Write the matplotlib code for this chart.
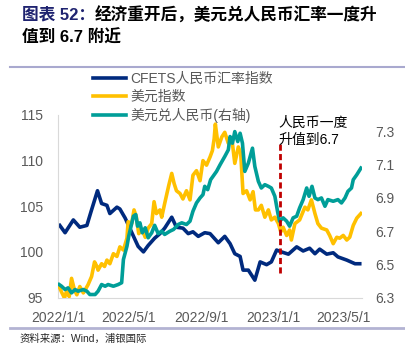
import pandas as pd
import matplotlib
matplotlib.use("Agg")
import matplotlib.pyplot as plt
from matplotlib.lines import Line2D

plt.rcParams['font.family'] = ['Liberation Sans', 'Noto Sans CJK SC', 'DejaVu Sans']

# CFETS人民币汇率指数 (左轴)
cfets_dates = ['2022-01-04', '2022-01-13', '2022-01-27', '2022-02-07', '2022-02-19', '2022-02-26',
               '2022-03-09', '2022-03-16', '2022-03-25', '2022-03-30', '2022-04-11', '2022-04-16',
               '2022-04-25', '2022-05-12', '2022-05-17', '2022-05-26', '2022-06-03', '2022-06-14',
               '2022-06-23', '2022-07-01', '2022-07-13', '2022-07-21', '2022-08-01', '2022-08-10',
               '2022-08-18', '2022-08-27', '2022-09-07', '2022-09-16', '2022-09-30', '2022-10-11',
               '2022-10-20', '2022-10-28', '2022-11-06', '2022-11-11', '2022-11-20', '2022-12-01',
               '2022-12-10', '2022-12-21', '2022-12-29', '2023-01-07', '2023-01-15', '2023-01-27',
               '2023-02-10', '2023-02-21', '2023-03-04', '2023-03-13', '2023-03-21', '2023-04-02',
               '2023-04-13', '2023-04-21', '2023-05-06', '2023-05-20', '2023-05-28']
cfets_vals = [102.9, 102.1, 103.5, 102.7, 102.9, 104.4,
              106.7, 105.3, 105.1, 104.2, 104.9, 104.7,
              103.7, 101.3, 100.6, 100.0, 100.7, 101.5,
              102.0, 102.6, 103.8, 102.7, 102.6, 102.0,
              102.2, 101.7, 102.1, 102.0, 101.0, 101.7,
              100.9, 99.8, 99.5, 98.0, 98.0, 96.9,
              98.9, 98.6, 98.9, 100.2, 100.0, 99.75,
              100.55, 100.1, 100.4, 99.8, 100.3, 99.75,
              99.9, 99.45, 99.1, 98.7, 98.7]

# 美元指数 (左轴)
dxy_dates = ['2022-01-03', '2022-01-07', '2022-01-12', '2022-01-16', '2022-01-20', '2022-01-24',
             '2022-01-29', '2022-02-02', '2022-02-07', '2022-02-13', '2022-02-21', '2022-02-27',
             '2022-03-04', '2022-03-08', '2022-03-10', '2022-03-16', '2022-03-21', '2022-03-25',
             '2022-03-30', '2022-04-05', '2022-04-11', '2022-04-16', '2022-04-22', '2022-04-28',
             '2022-04-30', '2022-05-06', '2022-05-10', '2022-05-14', '2022-05-18', '2022-05-24',
             '2022-05-29', '2022-06-03', '2022-06-09', '2022-06-13', '2022-06-17', '2022-06-23',
             '2022-06-26', '2022-07-01', '2022-07-08', '2022-07-13', '2022-07-17', '2022-07-21',
             '2022-07-27', '2022-08-01', '2022-08-07', '2022-08-13', '2022-08-18', '2022-08-24',
             '2022-08-30', '2022-09-04', '2022-09-10', '2022-09-16', '2022-09-20', '2022-09-23',
             '2022-09-25', '2022-09-30', '2022-10-06', '2022-10-11', '2022-10-17', '2022-10-23',
             '2022-10-28', '2022-11-03', '2022-11-07', '2022-11-11', '2022-11-17', '2022-11-23',
             '2022-11-28', '2022-12-02', '2022-12-07', '2022-12-12', '2022-12-18', '2022-12-24',
             '2022-12-29', '2023-01-04', '2023-01-10', '2023-01-14', '2023-01-18', '2023-01-24',
             '2023-01-29', '2023-02-01', '2023-02-07', '2023-02-15', '2023-02-24', '2023-03-01',
             '2023-03-07', '2023-03-13', '2023-03-18', '2023-03-24', '2023-04-02', '2023-04-07',
             '2023-04-13', '2023-04-19', '2023-04-24', '2023-04-30', '2023-05-06', '2023-05-11',
             '2023-05-17', '2023-05-23', '2023-05-30']
dxy_vals = [96.2, 95.6, 94.95, 95.8, 95.1, 97.1,
            95.8, 95.3, 96.2, 95.5, 96.4, 97.3,
            98.9, 98.4, 98.0, 98.7, 98.4, 99.1,
            98.7, 99.8, 99.5, 100.55, 100.2, 101.5,
            103.3, 103.1, 104.6, 103.8, 102.0, 102.4,
            101.6, 102.6, 103.1, 105.5, 104.2, 104.6,
            103.8, 105.3, 107.3, 108.6, 107.5, 106.7,
            106.4, 105.8, 106.7, 105.7, 108.4, 108.9,
            107.8, 110.0, 109.5, 110.4, 111.1, 112.4,
            114.0, 111.5, 112.6, 113.1, 111.9, 112.4,
            109.7, 111.5, 110.8, 106.4, 106.7, 105.7,
            106.6, 104.6, 104.6, 105.1, 103.8, 104.6,
            103.5, 103.8, 103.1, 102.2, 102.7, 101.8,
            102.4, 101.3, 103.1, 103.5, 104.9, 104.6,
            105.7, 104.2, 103.1, 102.6, 102.4, 101.8,
            100.9, 101.6, 101.5, 101.8, 101.3, 101.6,
            102.9, 103.7, 104.2]

# 美元兑人民币 (右轴)
usdcny_dates = ['2022-01-03', '2022-01-07', '2022-01-13', '2022-01-18', '2022-01-24', '2022-01-30',
                '2022-02-04', '2022-02-13', '2022-02-19', '2022-02-24', '2022-03-05', '2022-03-10',
                '2022-03-16', '2022-03-22', '2022-03-27', '2022-04-05', '2022-04-13', '2022-04-19',
                '2022-04-22', '2022-04-28', '2022-05-01', '2022-05-05', '2022-05-09', '2022-05-13',
                '2022-05-16', '2022-05-20', '2022-05-24', '2022-05-29', '2022-06-03', '2022-06-09',
                '2022-06-14', '2022-06-20', '2022-06-26', '2022-07-01', '2022-07-10', '2022-07-16',
                '2022-07-24', '2022-07-30', '2022-08-07', '2022-08-13', '2022-08-18', '2022-08-24',
                '2022-08-30', '2022-09-04', '2022-09-07', '2022-09-12', '2022-09-17', '2022-09-21',
                '2022-09-27', '2022-10-03', '2022-10-11', '2022-10-17', '2022-10-20', '2022-10-24',
                '2022-10-28', '2022-11-02', '2022-11-06', '2022-11-10', '2022-11-14', '2022-11-20',
                '2022-11-27', '2022-12-01', '2022-12-07', '2022-12-12', '2022-12-18', '2022-12-24',
                '2022-12-29', '2023-01-04', '2023-01-09', '2023-01-12', '2023-01-18', '2023-01-24',
                '2023-01-29', '2023-02-04', '2023-02-10', '2023-02-15', '2023-02-21', '2023-02-27',
                '2023-03-03', '2023-03-08', '2023-03-13', '2023-03-18', '2023-03-24', '2023-03-30',
                '2023-04-04', '2023-04-13', '2023-04-21', '2023-04-27', '2023-05-03', '2023-05-08',
                '2023-05-14', '2023-05-17', '2023-05-23', '2023-05-30']
usdcny_vals = [6.378, 6.368, 6.348, 6.358, 6.328, 6.348,
               6.338, 6.348, 6.338, 6.318, 6.318, 6.338,
               6.378, 6.368, 6.378, 6.368, 6.378, 6.389,
               6.529, 6.609, 6.669, 6.730, 6.790, 6.800,
               6.730, 6.750, 6.690, 6.720, 6.660, 6.690,
               6.735, 6.685, 6.700, 6.680, 6.700, 6.710,
               6.740, 6.750, 6.740, 6.760, 6.820, 6.870,
               6.900, 6.920, 6.970, 6.950, 7.010, 7.030,
               7.060, 7.100, 7.150, 7.190, 7.270, 7.230,
               7.300, 7.240, 7.290, 7.230, 7.060, 7.110,
               7.200, 7.090, 7.000, 6.960, 6.980, 6.970,
               6.960, 6.910, 6.810, 6.760, 6.780, 6.760,
               6.730, 6.780, 6.790, 6.840, 6.890, 6.960,
               6.910, 6.970, 6.900, 6.890, 6.900, 6.850,
               6.890, 6.880, 6.890, 6.870, 6.900, 6.940,
               6.960, 7.010, 7.040, 7.080]

xtick_dates = ['2022-01-01', '2022-05-01', '2022-09-01', '2023-01-01', '2023-05-01']
xtick_labels = ['2022/1/1', '2022/5/1', '2022/9/1', '2023/1/1', '2023/5/1']
left_ticks = [95, 100, 105, 110, 115]
right_ticks = [6.3, 6.5, 6.7, 6.9, 7.1, 7.3]
mark_date = '2023-01-13'

NAVY = '#002A7E'
GOLD = '#FFC000'
TEAL = '#009E98'
GREY = '#595959'

fig = plt.figure(figsize=(4.05, 3.52), dpi=100)
ax = fig.add_axes([58 / 405, 1 - 297.5 / 352, 303.5 / 405, 182.5 / 352])
ax2 = ax.twinx()

l1, = ax.plot(pd.to_datetime(cfets_dates), cfets_vals, color=NAVY, lw=2.6, zorder=2)
l2, = ax.plot(pd.to_datetime(dxy_dates), dxy_vals, color=GOLD, lw=2.6, zorder=3)
l3, = ax2.plot(pd.to_datetime(usdcny_dates), usdcny_vals, color=TEAL, lw=2.6, zorder=2)
ax2.axvline(pd.Timestamp(mark_date), ymin=0.134, ymax=0.847, color='#C00000', lw=2,
            ls=(0, (2.2, 1.2)), zorder=5)

ax.set_xlim(pd.Timestamp('2022-01-01'), pd.Timestamp('2023-05-31'))
ax.set_ylim(95, 115)
ax2.set_ylim(6.3, 7.4)
ax.set_xticks(pd.to_datetime(xtick_dates))
ax.set_xticklabels(xtick_labels)
ax.set_yticks(left_ticks)
ax.set_yticklabels([str(v) for v in left_ticks])
ax2.set_yticks(right_ticks)
ax2.set_yticklabels([f'{v:.1f}' for v in right_ticks])

ax.tick_params(axis='x', length=0, pad=10, labelsize=10, labelcolor=GREY)
ax.tick_params(axis='y', length=0, pad=11, labelsize=10, labelcolor=GREY)
ax2.tick_params(axis='y', length=0, pad=10, labelsize=10, labelcolor=GREY)
for s in ['top', 'right']:
    ax.spines[s].set_visible(False)
for s in ax2.spines.values():
    s.set_visible(False)
ax.spines['left'].set_color('#D9D9D9')
ax.spines['bottom'].set_color('#D9D9D9')

fig.legend([l1, l2, l3], ['CFETS人民币汇率指数', '美元指数', '美元兑人民币(右轴)'],
           loc='upper left', bbox_to_anchor=(93 / 405, 1 - 72 / 352), frameon=False,
           borderpad=0, borderaxespad=0, handlelength=2.4, handletextpad=0.3,
           labelspacing=0.3, fontsize=10, labelcolor=GREY)

fig.text(278 / 405, 1 - 131 / 352, '人民币一度\n升值到6.7', fontsize=10, va='center',
         ha='left', linespacing=1.3, color='black')

# 标题
t1 = fig.text(22 / 405, 1 - 15 / 352, '图表 52：', fontsize=12, fontweight='bold',
              color='#1F2370', va='center')
fig.canvas.draw()
bb = t1.get_window_extent(fig.canvas.get_renderer())
fig.text(bb.x1 / 405, 1 - 15 / 352, '经济重开后，美元兑人民币汇率一度升', fontsize=12,
         fontweight='bold', color='black', va='center')
fig.text(22 / 405, 1 - 37 / 352, '值到 6.7 附近', fontsize=12, fontweight='bold',
         color='black', va='center')

fig.add_artist(Line2D([10 / 405, 1], [1 - 67 / 352] * 2, color='#A9A9CF', lw=1.5))
fig.add_artist(Line2D([10 / 405, 1], [1 - 328 / 352] * 2, color='#B3B3D3', lw=2))
fig.text(20 / 405, 1 - 339 / 352, '资料来源：Wind，浦银国际', fontsize=7.5, va='center',
         color='#262626')

fig.savefig('out.png', dpi=100)
